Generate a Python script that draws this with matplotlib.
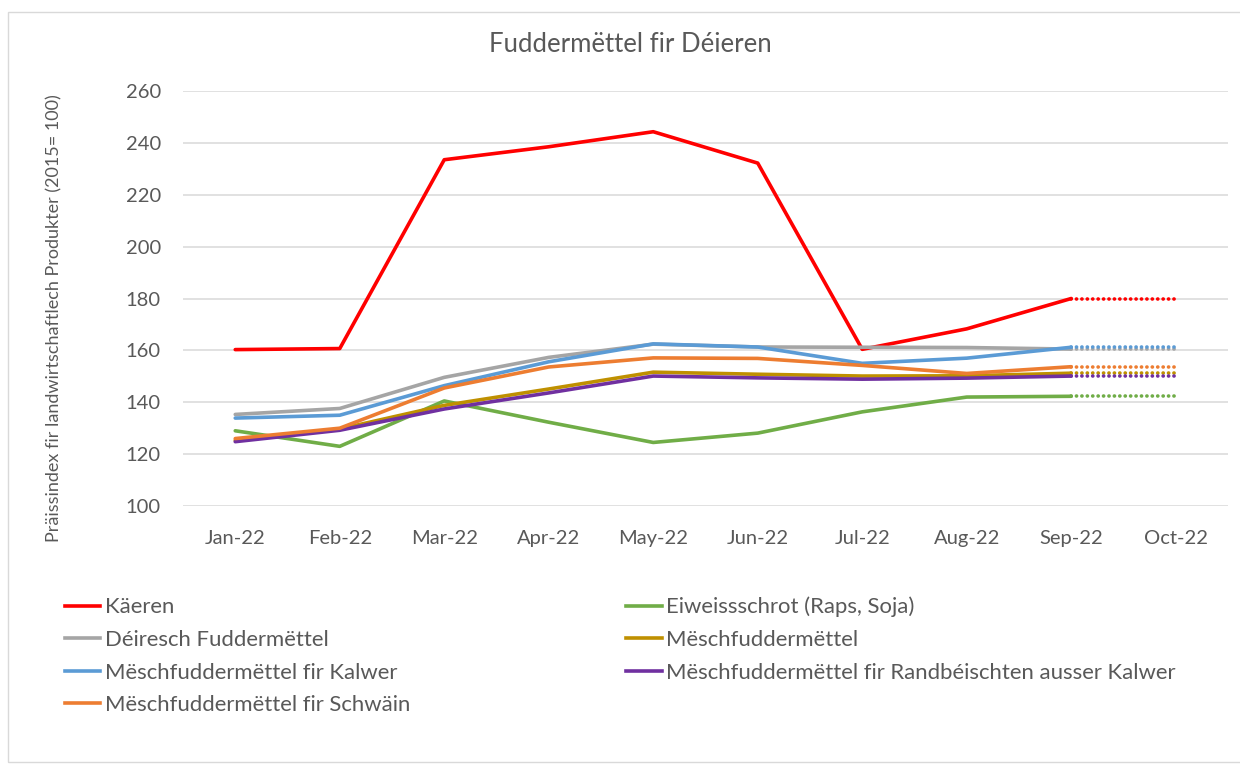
"""Fuddermëttel fir Déieren - price index line chart."""

import matplotlib

matplotlib.use("Agg")
import matplotlib.pyplot as plt
from matplotlib.lines import Line2D
from matplotlib.patches import Rectangle

plt.rcParams["font.family"] = ["Lato", "DejaVu Sans"]

months = ["Jan-22", "Feb-22", "Mar-22", "Apr-22", "May-22",
          "Jun-22", "Jul-22", "Aug-22", "Sep-22", "Oct-22"]

# measured values Jan..Sep; Oct is carried over from Sep (dotted)
kaeren = [160.3, 160.7, 233.5, 238.5, 244.3, 232.2, 160.4, 168.3, 180.0]
eiweiss = [129.0, 123.0, 140.5, 132.3, 124.5, 128.1, 136.3, 142.0, 142.3]
deiresch = [135.3, 137.6, 149.6, 157.3, 162.4, 161.3, 161.2, 161.1, 160.5]
mesch = [125.3, 129.7, 138.8, 145.1, 151.6, 150.8, 150.1, 150.2, 151.2]
kalwer = [133.9, 135.0, 146.4, 155.6, 162.5, 161.3, 155.0, 157.0, 161.2]
randb = [124.8, 129.2, 137.4, 143.6, 150.1, 149.4, 148.9, 149.3, 150.1]
schwain = [126.0, 130.0, 145.5, 153.6, 157.1, 156.9, 154.2, 151.1, 153.7]

series_names = [
    "Käeren",
    "Eiweissschrot (Raps, Soja)",
    "Déiresch Fuddermëttel",
    "Mëschfuddermëttel",
    "Mëschfuddermëttel fir Kalwer",
    "Mëschfuddermëttel fir Randbéischten ausser Kalwer",
    "Mëschfuddermëttel fir Schwäin",
]
series_values = [kaeren, eiweiss, deiresch, mesch, kalwer, randb, schwain]
series_colors = ["#FF0000", "#70AD47", "#A5A5A5", "#BF9000",
                 "#5B9BD5", "#7030A0", "#ED7D31"]

TEXT = "#595959"
GRID = "#D9D9D9"
LW = 2.6


def main() -> None:
    fig = plt.figure(figsize=(12.4, 7.64), dpi=100)
    ax = fig.add_axes([183 / 1240, 258 / 764, 1045 / 1240, 415 / 764])

    x = list(range(len(months)))
    n = len(kaeren)
    for vals, color in zip(series_values, series_colors):
        ax.plot(x[:n], vals, color=color, lw=LW, solid_capstyle="round",
                solid_joinstyle="round", zorder=3)
        ax.plot(x[n - 1:], [vals[-1], vals[-1]], color=color, lw=LW,
                linestyle=(0, (0.05, 1.45)), dash_capstyle="round", zorder=3)

    ax.set_xlim(-0.5, len(months) - 0.5)
    ax.set_ylim(100, 260)
    ax.set_yticks(range(100, 261, 20))
    ax.set_xticks(x)
    ax.set_xticklabels(months)
    ax.grid(axis="y", color=GRID, lw=1.1, zorder=0)
    ax.tick_params(axis="both", length=0, labelsize=14.5, colors=TEXT)
    ax.tick_params(axis="y", pad=16)
    ax.tick_params(axis="x", pad=17)
    for spine in ax.spines.values():
        spine.set_visible(False)

    ax.set_ylabel("Präissindex fir landwirtschaftlech Produkter (2015= 100)",
                  fontsize=13, color=TEXT)
    ax.yaxis.set_label_coords(-121 / 1045, 0.453)
    fig.text(630 / 1240, 1 - 44 / 764, "Fuddermëttel fir Déieren",
             ha="center", va="center", fontsize=18.5, color=TEXT)

    handles = [Line2D([0], [0], color=c, lw=LW) for c in series_colors]
    # column-major reorder so the legend reads row by row like the original
    order = [0, 2, 4, 6, 1, 3, 5]
    ax.legend([handles[i] for i in order], [series_names[i] for i in order],
              ncol=2, loc="upper left", bbox_to_anchor=(56 / 1240, 1 - 588 / 764),
              bbox_transform=fig.transFigure, frameon=False, fontsize=15.9,
              labelcolor=TEXT, handlelength=1.6, handletextpad=0.2,
              columnspacing=9.8, labelspacing=0.57, borderaxespad=0)

    fig.add_artist(Rectangle((8 / 1240, 0.002), 1.2, 1 - 12 / 764 - 0.002,
                             transform=fig.transFigure, fill=False,
                             edgecolor=GRID, lw=1.0))

    fig.savefig("out.png", dpi=100)
    plt.close(fig)


if __name__ == "__main__":
    main()
